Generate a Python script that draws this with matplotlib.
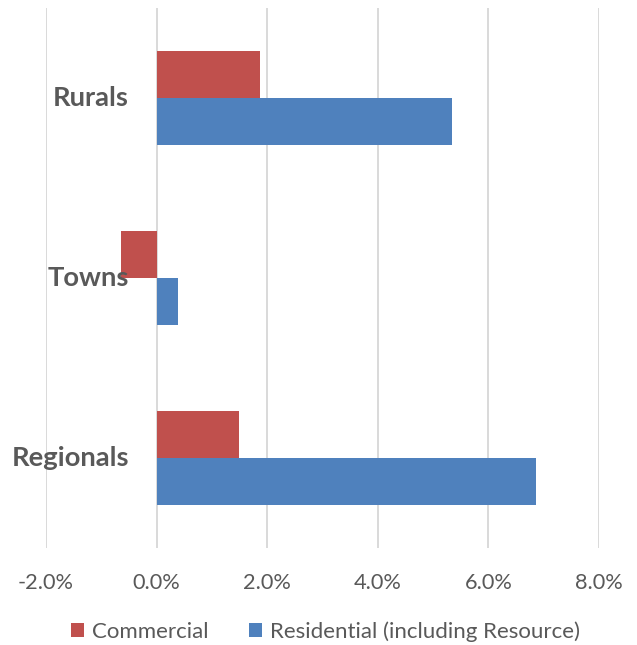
import numpy as np
import matplotlib.pyplot as plt
from matplotlib.ticker import FuncFormatter

categories = ["Regionals", "Towns", "Rurals"]
commercial = [1.49, -0.65, 1.87]
residential = [6.86, 0.39, 5.35]
series_names = ["Commercial", "Residential (including Resource)"]
xticks = [-2, 0, 2, 4, 6, 8]

red = "#C0504D"
blue = "#4F81BD"
grey = "#595959"

plt.rcParams['font.family'] = ['Lato', 'DejaVu Sans']

fig = plt.figure(figsize=(6.37, 6.45), dpi=100)
ax = fig.add_axes([0.0722, 0.150, 0.868, 0.8376])

y = np.arange(len(categories))
h = 0.26
ax.barh(y + h / 2, commercial, height=h, color=red, label=series_names[0], zorder=3)
ax.barh(y - h / 2, residential, height=h, color=blue, label=series_names[1], zorder=3)

ax.set_xlim(-2, 8)
ax.set_ylim(-0.5, 2.5)
ax.set_xticks(xticks)
ax.xaxis.set_major_formatter(FuncFormatter(lambda v, p: f"{v:.1f}%"))
ax.grid(axis='x', color="#D9D9D9", linewidth=1.4, zorder=0)
for s in ax.spines.values():
    s.set_visible(False)
ax.tick_params(axis='x', length=0, pad=18, labelsize=15.7, labelcolor=grey)
ax.set_yticks([])

for yi, name in zip(y, categories):
    ax.text(-0.5, yi, name, ha='right', va='center', fontsize=19.7,
            fontweight='bold', color=grey, zorder=4)

leg = fig.legend(loc='center', bbox_to_anchor=(0.511, 0.021), ncol=2, frameon=False,
                 fontsize=16, handlelength=0.58, handleheight=0.58,
                 handletextpad=0.35, columnspacing=1.85)
for t in leg.get_texts():
    t.set_color(grey)

fig.savefig("out.png", dpi=100)
